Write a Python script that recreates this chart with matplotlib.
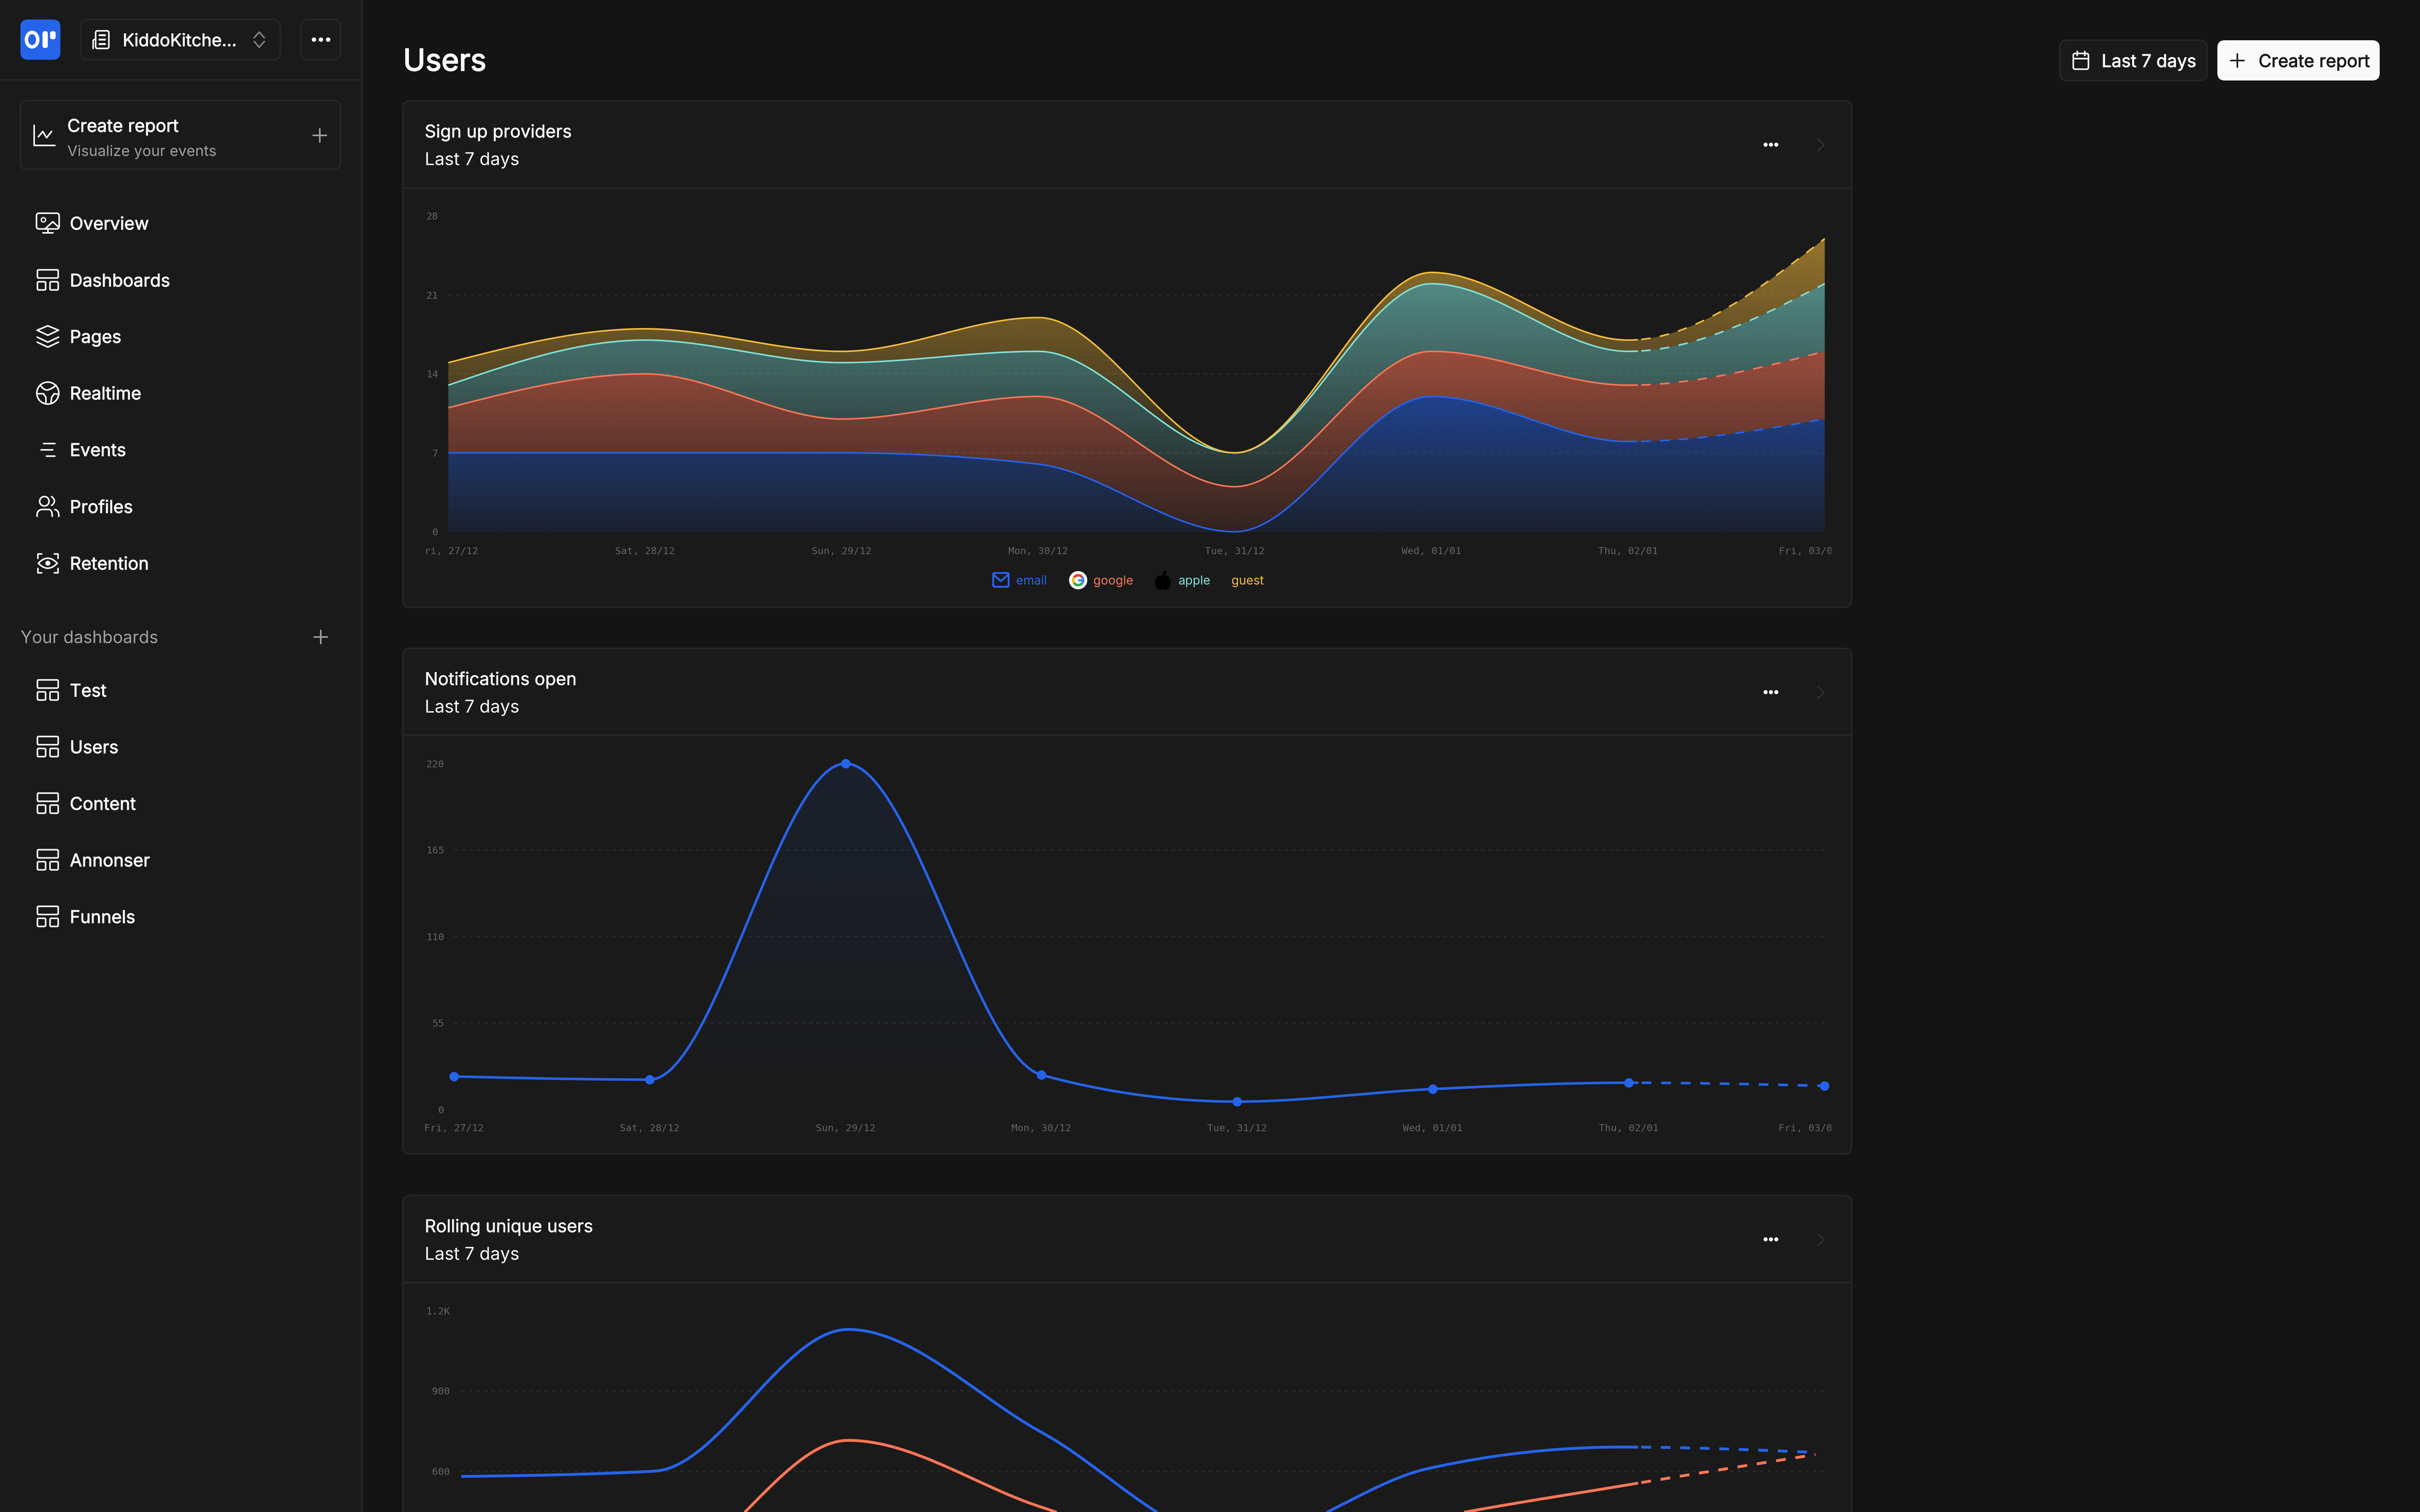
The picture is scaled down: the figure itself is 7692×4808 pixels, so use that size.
import numpy as np
import matplotlib
matplotlib.use('Agg')
import matplotlib.pyplot as plt
import matplotlib.patheffects as pe
from matplotlib.patches import Circle, Ellipse, FancyBboxPatch, PathPatch, Polygon, Rectangle, Wedge
from matplotlib.path import Path
from matplotlib.transforms import Affine2D, Bbox

W, H = 7692, 4808
PT = 0.72  # px to points at dpi 100

day_labels = ['Fri, 27/12', 'Sat, 28/12', 'Sun, 29/12', 'Mon, 30/12',
              'Tue, 31/12', 'Wed, 01/01', 'Thu, 02/01', 'Fri, 03/01']

# sign up providers, stacked
email = [7, 7, 7, 6, 0, 12, 8, 10]
google = [4, 7, 3, 6, 4, 4, 5, 6]
apple = [2, 3, 5, 4, 3, 6, 3, 6]
guest = [2, 1, 1, 3, 0, 1, 1, 4]
signup_ticks = [0, 7, 14, 21, 28]
signup_tick_labels = ['0', '7', '14', '21', '28']

# notifications open
notifications = [21, 19, 220, 22, 5, 13, 17, 15]
notif_ticks = [0, 55, 110, 165, 220]
notif_tick_labels = ['0', '55', '110', '165', '220']

# rolling unique users (bottom is cut off by the page)
rolling_blue = [580, 600, 1130, 745, 340, 610, 690, 670]
rolling_coral = [220, 225, 715, 465, 250, 420, 545, 662]
rolling_ticks = [600, 900, 1200]
rolling_tick_labels = ['600', '900', '1.2K']

nav_items = ['Overview', 'Dashboards', 'Pages', 'Realtime', 'Events', 'Profiles', 'Retention']
dash_items = ['Test', 'Users', 'Content', 'Annonser', 'Funnels']
card_titles = ['Sign up providers', 'Notifications open', 'Rolling unique users']

BLUE, CORAL, TEAL, YELLOW = '#2563eb', '#ff7557', '#7fe1d8', '#f8bc3c'
PANEL, MAIN, BORDER = '#1a1a1a', '#141414', '#262626'
TICK = '#646464'
UI_FONT = ['Inter', 'DejaVu Sans']
MONO_FONT = ['DejaVu Sans Mono']

plt.rcParams['lines.scale_dashes'] = False
fig = plt.figure(figsize=(W / 100, H / 100), dpi=100, facecolor=MAIN)
ui = fig.add_axes([0, 0, 1, 1], zorder=0)
ui.set_xlim(0, W)
ui.set_ylim(H, 0)
ui.axis('off')


def monotone(values, n=60):
    # same curve as d3 curveMonotoneX, x is index
    y = np.asarray(values, dtype=float)
    s = np.diff(y)
    t = np.zeros(len(y))
    for i in range(1, len(y) - 1):
        p = (s[i - 1] + s[i]) / 2
        t[i] = (np.sign(s[i - 1]) + np.sign(s[i])) * min(abs(s[i - 1]), abs(s[i]), 0.5 * abs(p))
    t[0] = (3 * s[0] - t[1]) / 2
    t[-1] = (3 * s[-1] - t[-2]) / 2
    xs, ys = [], []
    for i in range(len(y) - 1):
        u = np.linspace(0, 1, n, endpoint=False)
        h00 = 2 * u**3 - 3 * u**2 + 1
        h10 = u**3 - 2 * u**2 + u
        h01 = -2 * u**3 + 3 * u**2
        h11 = u**3 - u**2
        xs.append(i + u)
        ys.append(h00 * y[i] + h10 * t[i] + h01 * y[i + 1] + h11 * t[i + 1])
    xs.append([len(y) - 1.0])
    ys.append([y[-1]])
    return np.concatenate(xs), np.concatenate(ys)


def label(x, y, s, size, color='#fafafa', ha='left', bold=0):
    # y is the middle of the capitals, bold is a thin outline in px
    t = ui.text(x, y + 0.36 * size, s, fontsize=size * PT, color=color, ha=ha, va='baseline', family=UI_FONT)
    if bold:
        t.set_path_effects([pe.withStroke(linewidth=bold * PT, foreground=color)])


def box(x0, y0, x1, y1, r, fc='none', ec=BORDER, lw=5, z=1):
    ui.add_patch(FancyBboxPatch((x0, y0), x1 - x0, y1 - y0, boxstyle='round,pad=0,rounding_size=%d' % r,
                                fc=fc, ec=ec, lw=lw * PT, zorder=z))


def stroke(xs, ys, color='#fafafa', lw=5):
    ui.plot(xs, ys, color=color, lw=lw * PT, solid_capstyle='round', solid_joinstyle='round', zorder=3)


def bez(points, color='#fafafa', lw=5):
    codes = [Path.MOVETO] + [Path.CURVE3] * (len(points) - 1)
    ui.add_patch(PathPatch(Path(points, codes), fc='none', ec=color, lw=lw * PT, capstyle='round', zorder=3))


def dots(xs, y, r=7, color='#fafafa'):
    for x in xs:
        ui.add_patch(Circle((x, y), r, fc=color, ec='none', zorder=3))


def plus(x, y, half=21, color='#a0a0a0'):
    stroke([x - half, x + half], [y, y], color)
    stroke([x, x], [y - half, y + half], color)


def icon_dash(y):
    box(119, y - 33, 185, y - 7, 4, ec='#fafafa', lw=5, z=3)
    box(119, y + 5, 145, y + 31, 4, ec='#fafafa', lw=5, z=3)
    box(159, y + 5, 185, y + 31, 4, ec='#fafafa', lw=5, z=3)


def icon_overview(y):
    box(116, y - 32, 188, y + 18, 8, ec='#fafafa', lw=5, z=3)
    ui.add_patch(Circle((138, y - 11), 7, fc='none', ec='#fafafa', lw=4 * PT, zorder=3))
    stroke([143, 168, 186], [y + 18, y - 5, y + 12])
    stroke([152, 152], [y + 18, y + 30])
    stroke([136, 168], [y + 30, y + 30])


def icon_pages(y):
    ui.add_patch(Polygon([(152, y - 34), (186, y - 20), (152, y - 4), (118, y - 20)], closed=True,
                         fc='none', ec='#fafafa', lw=5 * PT, joinstyle='round', zorder=3))
    stroke([118, 152, 186], [y + 2, y + 18, y + 2])
    stroke([118, 152, 186], [y + 18, y + 34, y + 18])


def icon_realtime(y):
    ui.add_patch(Circle((152, y), 35, fc='none', ec='#fafafa', lw=5 * PT, zorder=3))
    bez([(128, y - 25), (140, y - 8), (152, y - 10), (166, y - 14), (178, y - 25)])
    stroke([120, 138, 146, 146], [y + 2, y + 2, y + 14, y + 30])
    stroke([186, 172, 164, 162], [y + 4, y + 2, y + 14, y + 30])


def icon_events(y):
    stroke([138, 174], [y - 20, y - 20])
    stroke([130, 167], [y, y])
    stroke([147, 174], [y + 20, y + 20])


def icon_profiles(y):
    ui.add_patch(Circle((141, y - 17), 15, fc='none', ec='#fafafa', lw=5 * PT, zorder=3))
    bez([(118, y + 31), (116, y + 9), (136, y + 9), (146, y + 9), (154, y + 9), (166, y + 9), (166, y + 31)])
    bez([(164, y - 32), (182, y - 17), (164, y - 4)])
    bez([(174, y + 9), (188, y + 12), (187, y + 31)])


def icon_retention(y):
    for sx in (-1, 1):
        for sy in (-1, 1):
            stroke([152 + sx * 20, 152 + sx * 32, 152 + sx * 32], [y + sy * 30, y + sy * 30, y + sy * 16])
    bez([(122, y), (152, y - 32), (182, y), (152, y + 32), (122, y)])
    ui.add_patch(Circle((152, y), 8, fc='#fafafa', ec='none', zorder=3))


def icon_google(x, y, r):
    ui.add_patch(Circle((x, y), r, fc='#fafafa', ec='none', zorder=3))
    parts = [(-45, 40, '#4285f4'), (40, 150, '#34a853'), (150, 215, '#fbbc05'), (215, 315, '#ea4335')]
    for a, b, c in parts:
        ui.add_patch(Wedge((x, y), r * 0.68, a, b, width=r * 0.28, fc=c, ec='none', zorder=4))
    ui.add_patch(Rectangle((x, y - 3), r * 0.66, 7, fc='#4285f4', ec='none', zorder=4))


def icon_apple(x, y):
    ui.add_patch(Ellipse((x - 10, y + 5), 32, 46, fc='black', ec='none', zorder=3))
    ui.add_patch(Ellipse((x + 8, y + 5), 32, 46, fc='black', ec='none', zorder=3))
    ui.add_patch(Ellipse((x + 4, y - 25), 9, 20, angle=30, fc='black', ec='none', zorder=3))


def chart_axes(x0, x1, y_top, y_zero, xmax, ymax, ticks, tick_labels, pad, dates=True, x_pad=46):
    ax = fig.add_axes([x0 / W, 1 - y_zero / H, (x1 - x0) / W, (y_zero - y_top) / H], zorder=2)
    ax.patch.set_visible(False)
    ax.set_xlim(0, xmax)
    ax.set_ylim(0, ymax)
    for sp in ax.spines.values():
        sp.set_visible(False)
    ax.set_xticks(range(len(day_labels)))
    ax.set_xticklabels(day_labels if dates else [], family=MONO_FONT)
    ax.set_yticks(ticks)
    ax.set_yticklabels(tick_labels, family=MONO_FONT)
    ax.tick_params(axis='x', length=0, labelsize=31.5 * PT, labelcolor=TICK, pad=x_pad * PT)
    ax.tick_params(axis='y', length=0, labelsize=31.5 * PT, labelcolor=TICK, pad=pad * PT)
    ax.set_axisbelow(True)
    ax.grid(axis='y', color='#2a2a2a', lw=4 * PT, linestyle=(0, (12 * PT, 12 * PT)))
    ax.grid(axis='x', visible=False)
    for tick_val, line in zip(ticks, ax.get_ygridlines()):
        if tick_val in (0, ymax):
            line.set_visible(False)
    # date labels are cut by the svg box, the last one gets pushed left
    if dates:
        date_text = ax.get_xticklabels()
        for t in date_text:
            t.set_clip_on(True)
            t.set_clip_box(Bbox([[1349, 0], [5821, H]]))
        date_text[-1].set_transform(date_text[-1].get_transform() + Affine2D().translate(-51, 0))
    return ax


def gradient_fill(ax, xs, lower, upper, color, top_alpha, bottom_alpha, vmax, vmin):
    rgba = np.zeros((256, 1, 4))
    rgba[:, 0, :3] = matplotlib.colors.to_rgb(color)
    rgba[:, 0, 3] = np.linspace(top_alpha, bottom_alpha, 256)
    im = ax.imshow(rgba, extent=[xs[0], xs[-1], vmin, vmax], origin='upper', aspect='auto', zorder=1,
                   interpolation='bilinear')
    poly = Polygon(np.vstack([np.column_stack([xs, upper]), np.column_stack([xs[::-1], lower[::-1]])]),
                   closed=True, transform=ax.transData, fc='none', ec='none')
    ax.add_patch(poly)
    im.set_clip_path(poly)


def split_line(ax, xs, ys, split, color, lw, on, off):
    solid = xs <= split
    ax.plot(xs[solid], ys[solid], color=color, lw=lw * PT, zorder=3, clip_on=False, solid_capstyle='butt')
    ax.plot(xs[~solid], ys[~solid], color=color, lw=lw * PT, zorder=3, clip_on=False,
            linestyle=(0, (on * PT, off * PT)))


# page frame
ui.add_patch(Rectangle((0, 0), 1150, H, fc=PANEL, ec='none', zorder=0))
stroke([1150, 1150], [0, H], BORDER)
stroke([0, 1150], [253, 253], BORDER)

# logo and org switcher
box(65, 62, 192, 190, 24, fc=BLUE, ec='none', lw=0)
ui.add_patch(Ellipse((102, 126), 36, 46, fc='none', ec='#fafafa', lw=11 * PT, zorder=3))
box(135, 99, 152, 153, 8, fc='#fafafa', ec='none', lw=0, z=3)
box(159, 99, 177, 125, 8, fc='#fafafa', ec='none', lw=0, z=3)
box(257, 62, 891, 190, 24)
box(304, 98, 346, 154, 6, ec='#fafafa', z=3)
stroke([296, 296, 304], [154, 128, 124])
stroke([316, 334], [112, 112], lw=6)
stroke([316, 334], [126, 126], lw=6)
stroke([316, 334], [140, 140], lw=6)
label(390, 127, 'KiddoKitche...', 55, bold=1.5)
stroke([808, 824, 840], [120, 102, 120], '#808080')
stroke([808, 824, 840], [132, 150, 132], '#808080')
box(957, 62, 1082, 190, 24)
dots([998, 1020, 1043], 126, 7)

# create report box
box(65, 320, 1082, 538, 20)
stroke([108, 108, 174], [398, 462, 462])
stroke([122, 136, 148, 164], [435, 418, 438, 418])
label(214, 399, 'Create report', 56, bold=1.5)
label(214, 479, 'Visualize your events', 47, color='#a0a0a0')
plus(1016, 430)

# nav
nav_rows = [710, 891, 1070, 1250, 1430, 1611, 1791]
nav_icons = [icon_overview, icon_dash, icon_pages, icon_realtime, icon_events, icon_profiles, icon_retention]
for name, row, ic in zip(nav_items, nav_rows, nav_icons):
    ic(row)
    label(222, row, name, 56, bold=1.5)

label(65, 2025, 'Your dashboards', 54, color='#a0a0a0')
plus(1019, 2025)
for name, row in zip(dash_items, [2195, 2375, 2555, 2735, 2915]):
    icon_dash(row)
    label(222, row, name, 56, bold=1.5)

# page header
label(1281, 190, 'Users', 96, bold=3)
box(6547, 128, 7015, 256, 24, fc=PANEL)
box(6590, 170, 6638, 220, 6, ec='#fafafa', z=3)
stroke([6590, 6638], [186, 186])
stroke([6602, 6602], [163, 176])
stroke([6626, 6626], [163, 176])
label(6680, 193, 'Last 7 days', 56, bold=1.5)
box(7048, 128, 7564, 256, 24, fc='#fafafa', ec='none', lw=0)
plus(7111, 192, color='#1a1a1a')
label(7179, 193, 'Create report', 56, color='#1a1a1a', bold=1.5)

# cards
cards = [(321, 598, 1931), (2062, 2337, 3669), (3802, 4078, 5300)]
for title, (top, div, bottom) in zip(card_titles, cards):
    box(1281, top, 5885, bottom, 22, fc=PANEL)
    stroke([1281, 5885], [div, div], BORDER)
    label(1350, top + 96, title, 56, bold=1)
    label(1350, top + 184, 'Last 7 days', 56)
    dots([5612, 5629, 5646], top + 139, 6.5)
    stroke([5778, 5798, 5778], [top + 121, top + 140, top + 159], '#333333', lw=4)

# chart 1
ax1 = chart_axes(1425, 5800, 687, 1691, 7, 28, signup_ticks, signup_tick_labels, 32, x_pad=48)
base = np.zeros(len(email))
layers = [(email, BLUE), (google, CORAL), (apple, TEAL), (guest, YELLOW)]
curves = []
for vals, color in layers:
    xs, lo = monotone(base)
    base = base + np.array(vals)
    xs, hi = monotone(base)
    curves.append((xs, lo, hi, color))
for xs, lo, hi, color in curves:
    gradient_fill(ax1, xs, lo, hi, color, 0.56, 0.1, hi.max(), lo.min())
for xs, lo, hi, color in curves:
    split_line(ax1, xs, hi, 6.06, color, 5, 30, 30)

# legend of chart 1
box(3157, 1822, 3206, 1866, 5, ec=BLUE, lw=6, z=3)
stroke([3159, 3181, 3204], [1828, 1848, 1828], BLUE, lw=6)
label(3230, 1845, 'email', 39, color=BLUE)
icon_google(3427, 1845, 29)
label(3475, 1845, 'google', 39, color=CORAL)
icon_apple(3697, 1848)
label(3745, 1845, 'apple', 39, color=TEAL)
label(3914, 1845, 'guest', 39, color=YELLOW)

# chart 2
ax2 = chart_axes(1443, 5799, 2428, 3528, 7, 220, notif_ticks, notif_tick_labels, 31)
xs, ys = monotone(notifications)
gradient_fill(ax2, xs, np.zeros_like(ys), ys, BLUE, 0.09, 0.0, 220, 0)
split_line(ax2, xs, ys, 6.056, BLUE, 8, 31, 31)
ax2.plot(range(len(notifications)), notifications, linestyle='none', marker='o', ms=30 * PT,
         mfc=BLUE, mec='none', zorder=4, clip_on=False)

# chart 3, date labels fall below the page
ax3 = chart_axes(1466, 5801, 4168, 5188, 7.05, 1200, rolling_ticks, rolling_tick_labels, 36, dates=False)
for vals, color in [(rolling_blue, BLUE), (rolling_coral, CORAL)]:
    xs, ys = monotone(vals)
    split_line(ax3, xs, ys, 6.09, color, 9, 31, 31)

fig.savefig('out.png', dpi=100, facecolor=MAIN)
